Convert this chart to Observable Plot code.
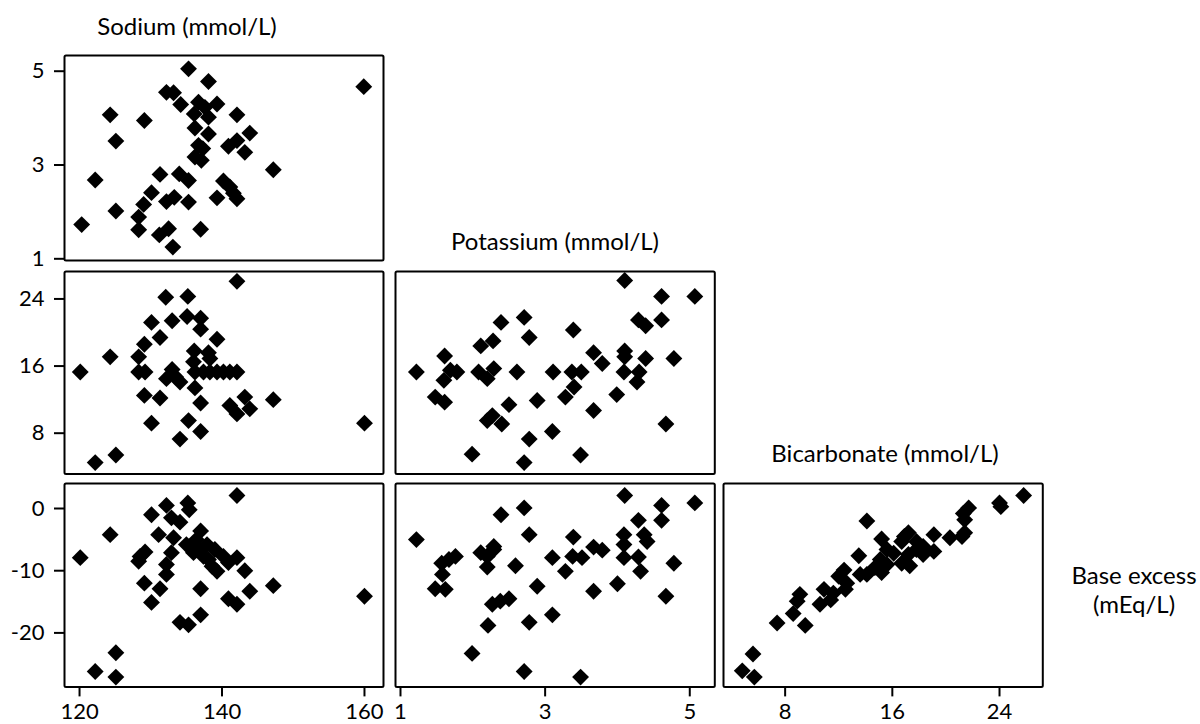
<!DOCTYPE html>
<html><head><meta charset="utf-8">
<script src="https://cdn.jsdelivr.net/npm/d3@7"></script>
<script src="https://cdn.jsdelivr.net/npm/@observablehq/plot@0.6"></script>
<style>
body{margin:0;background:#fff;}
#chart{position:relative;width:1200px;height:724px;font-family:Lato,sans-serif;color:#000;overflow:hidden}
.t{position:absolute;font-size:24px;white-space:nowrap;transform:translate(-50%,-50%);text-align:center;line-height:29px}
.p{position:absolute}
</style></head><body><div id="chart"></div>
<script>
// Sodium (x) vs Potassium (y)
const sodiumPotassium = [[135.3,5.05],[138.1,4.78],[159.9,4.67],[132.2,4.55],[133.2,4.54],[134.2,4.29],[136.7,4.34],[137.6,4.23],[139.3,4.30],[136.1,4.09],[138.1,4.02],[142.1,4.07],[124.3,4.07],[129.1,3.95],[125.1,3.51],[136.2,3.79],[138.1,3.66],[143.9,3.68],[140.9,3.40],[142.1,3.52],[143.2,3.27],[136.7,3.42],[137.3,3.35],[136.2,3.17],[137.1,3.10],[147.2,2.90],[122.2,2.68],[131.3,2.80],[134.0,2.81],[135.3,2.67],[140.2,2.66],[141.1,2.53],[141.6,2.40],[142.1,2.28],[130.1,2.41],[132.2,2.22],[133.3,2.31],[135.3,2.21],[139.3,2.30],[125.1,2.02],[129.0,2.16],[128.3,1.89],[120.3,1.73],[128.3,1.62],[131.2,1.51],[132.5,1.64],[137.0,1.63],[133.1,1.25]];
// Sodium (x) vs Bicarbonate (y)
const sodiumBicarbonate = [[142.1,26.1],[132.1,24.2],[135.2,24.3],[130.1,21.2],[133.0,21.4],[135.1,21.9],[137.0,21.7],[137.0,20.4],[131.3,19.4],[139.3,19.2],[129.1,18.6],[128.3,17.1],[124.3,17.1],[136.1,17.8],[138.1,17.6],[138.3,16.9],[136.0,16.5],[120.1,15.3],[128.3,15.3],[129.2,15.3],[133.0,15.6],[133.5,14.7],[132.2,14.5],[134.1,14.1],[136.2,15.3],[137.4,15.3],[138.3,15.3],[139.3,15.3],[140.2,15.3],[141.1,15.3],[142.1,15.3],[136.2,13.4],[129.1,12.5],[131.3,12.2],[137.0,11.6],[141.1,11.3],[142.1,10.3],[143.2,12.3],[143.9,10.9],[147.2,12.0],[160.0,9.2],[130.1,9.2],[135.3,9.5],[134.1,7.3],[137.0,8.2],[122.2,4.5],[125.1,5.4]];
// Potassium (x) vs Bicarbonate (y)
const potassiumBicarbonate = [[4.10,26.2],[4.61,24.3],[5.07,24.3],[2.39,21.2],[2.71,21.8],[2.78,19.4],[3.39,20.3],[4.29,21.5],[4.39,20.8],[4.61,21.5],[2.28,19.0],[2.11,18.4],[1.61,17.2],[3.67,17.6],[3.79,16.3],[4.10,17.8],[4.10,17.1],[4.39,16.9],[4.78,16.9],[1.22,15.3],[1.69,15.5],[1.78,15.3],[1.60,14.3],[2.08,15.3],[2.20,14.5],[2.29,15.7],[2.61,15.3],[3.11,15.3],[3.37,15.3],[3.50,15.3],[4.09,15.3],[4.30,15.3],[4.27,14.1],[3.40,13.5],[3.28,12.3],[1.48,12.3],[1.61,11.7],[2.89,11.9],[3.99,12.6],[2.50,11.4],[3.67,10.7],[2.27,10.1],[2.20,9.5],[2.40,9.1],[3.10,8.2],[4.67,9.1],[2.78,7.3],[1.99,5.5],[2.71,4.5],[3.49,5.4]];
// Sodium (x) vs Base excess (y)
const sodiumBaseExcess = [[142.1,2.1],[135.2,0.9],[132.2,0.5],[135.4,-0.2],[130.1,-1.0],[132.9,-1.5],[134.1,-2.2],[124.3,-4.2],[131.1,-4.2],[133.2,-4.7],[137.0,-3.6],[136.4,-5.0],[135.0,-5.8],[137.9,-5.8],[136.4,-6.6],[139.0,-6.6],[129.2,-7.0],[128.5,-7.7],[132.9,-7.1],[136.0,-7.1],[137.4,-7.7],[138.1,-8.2],[140.2,-7.7],[142.1,-7.9],[120.1,-7.9],[128.3,-8.5],[132.2,-9.0],[138.6,-9.3],[139.3,-10.1],[140.9,-8.7],[132.2,-10.6],[143.2,-10.0],[129.1,-12.0],[131.3,-12.9],[137.0,-12.9],[143.9,-13.3],[147.2,-12.4],[130.1,-15.1],[140.9,-14.5],[142.1,-15.4],[160.0,-14.1],[134.1,-18.3],[135.3,-18.7],[137.0,-17.1],[125.1,-23.2],[122.2,-26.2],[125.1,-27.1]];
// Potassium (x) vs Base excess (y)
const potassiumBaseExcess = [[4.10,2.1],[5.07,0.9],[4.61,0.5],[2.71,0.1],[2.39,-1.0],[4.61,-1.9],[4.29,-1.9],[1.22,-5.0],[2.78,-4.2],[3.39,-4.6],[4.09,-4.2],[4.37,-4.2],[4.41,-5.3],[4.09,-5.8],[3.67,-6.2],[3.79,-6.7],[2.11,-7.1],[2.29,-6.6],[2.29,-6.1],[2.20,-7.7],[1.76,-7.7],[1.67,-8.2],[1.57,-8.8],[2.20,-9.4],[2.59,-9.2],[3.10,-7.9],[3.38,-7.7],[3.51,-7.9],[4.09,-7.9],[4.29,-7.8],[4.78,-8.8],[3.28,-10.1],[4.32,-10.1],[1.58,-10.6],[1.48,-12.9],[1.62,-13.0],[2.89,-12.5],[4.00,-12.1],[3.67,-13.3],[4.67,-14.1],[2.27,-15.4],[2.38,-14.9],[2.50,-14.5],[3.10,-17.1],[2.21,-18.8],[2.78,-18.3],[1.99,-23.3],[2.71,-26.2],[3.49,-27.1]];
// Bicarbonate (x) vs Base excess (y)
const bicarbonateBaseExcess = [[25.8,2.1],[24.0,0.9],[24.1,0.3],[21.7,0.1],[21.3,-0.8],[21.4,-1.8],[14.1,-2.0],[17.2,-3.9],[16.9,-4.5],[19.1,-4.2],[20.3,-4.7],[21.2,-4.5],[21.4,-3.9],[15.2,-4.9],[16.7,-5.3],[17.8,-5.3],[18.3,-6.1],[17.8,-6.6],[19.1,-6.9],[18.3,-7.4],[15.6,-6.6],[16.1,-7.2],[17.2,-7.4],[13.5,-7.6],[15.1,-8.2],[16.7,-8.8],[17.3,-9.2],[15.6,-9.0],[14.7,-9.5],[14.1,-10.6],[13.6,-10.6],[15.2,-10.3],[12.4,-9.9],[12.0,-10.9],[12.6,-12.0],[12.5,-13.0],[10.9,-13.0],[11.6,-13.6],[11.4,-14.7],[10.6,-15.4],[9.1,-13.8],[8.9,-14.9],[8.6,-16.9],[7.4,-18.4],[9.5,-18.8],[5.6,-23.4],[4.8,-26.1],[5.7,-27.1]];

const sodiumTicks = [120, 140, 160];
const potassiumTicks = [1, 3, 5];
const bicarbonateTicks = [8, 16, 24];
const baseExcessTicks = [0, -10, -20];

const titles = ["Sodium (mmol/L)", "Potassium (mmol/L)", "Bicarbonate (mmol/L)"];
const baseExcessTitle = ["Base excess", "(mEq/L)"];

// layout (pixel frame of each column / row) and scale domains
const colPx = [[64.3, 383.3], [394.7, 714], [722.7, 1042]];
const rowPx = [[55, 260], [271.3, 473.7], [483.3, 686.7]];
const xDomains = [[117.89, 162.67], [0.931, 5.346], [3.40, 27.23]];
const yDomains = [[0.964, 5.335], [3.15, 27.27], [-28.68, 4.02]];
const xTicks = [sodiumTicks, potassiumTicks, bicarbonateTicks];
const yTicks = [potassiumTicks, bicarbonateTicks, baseExcessTicks];

const chart = document.getElementById("chart");
const M = 40;

function panel(data, col, row) {
  const [L, R] = colPx[col], [T, B] = rowPx[row];
  const marks = [
    Plot.frame({stroke: "black", strokeWidth: 2, rx: 1.5}),
    Plot.dot(data, {x: d => d[0], y: d => d[1], symbol: "diamond2", r: 7.6, fill: "black", stroke: "none"})
  ];
  if (col === 0) marks.push(Plot.axisY({ticks: yTicks[row], tickSize: 10, tickPadding: 10, strokeWidth: 2, tickFormat: d => String(d), label: null}));
  if (row === 2) marks.push(Plot.axisX({ticks: xTicks[col], tickSize: 10, tickPadding: 6, strokeWidth: 2, tickFormat: d => String(d), label: null}));
  const svg = Plot.plot({
    width: R - L + 2 * M, height: B - T + 2 * M,
    marginLeft: M, marginRight: M, marginTop: M, marginBottom: M,
    style: {background: "transparent", fontFamily: "Lato, sans-serif", fontSize: "22px", overflow: "visible", color: "black"},
    x: {domain: xDomains[col], axis: null},
    y: {domain: yDomains[row], axis: null},
    marks
  });
  const div = document.createElement("div");
  div.className = "p";
  div.style.left = (L - M) + "px";
  div.style.top = (T - M) + "px";
  div.appendChild(svg);
  chart.appendChild(div);
}

panel(sodiumPotassium, 0, 0);
panel(sodiumBicarbonate, 0, 1);
panel(potassiumBicarbonate, 1, 1);
panel(sodiumBaseExcess, 0, 2);
panel(potassiumBaseExcess, 1, 2);
panel(bicarbonateBaseExcess, 2, 2);

function label(text, cx, cy) {
  const d = document.createElement("div");
  d.className = "t";
  d.style.left = cx + "px";
  d.style.top = cy + "px";
  d.textContent = text;
  chart.appendChild(d);
}
label(titles[0], 187, 25);
label(titles[1], 555, 240);
label(titles[2], 885, 452);
label(baseExcessTitle[0], 1134, 574);
label(baseExcessTitle[1], 1134, 603);
</script></body></html>
